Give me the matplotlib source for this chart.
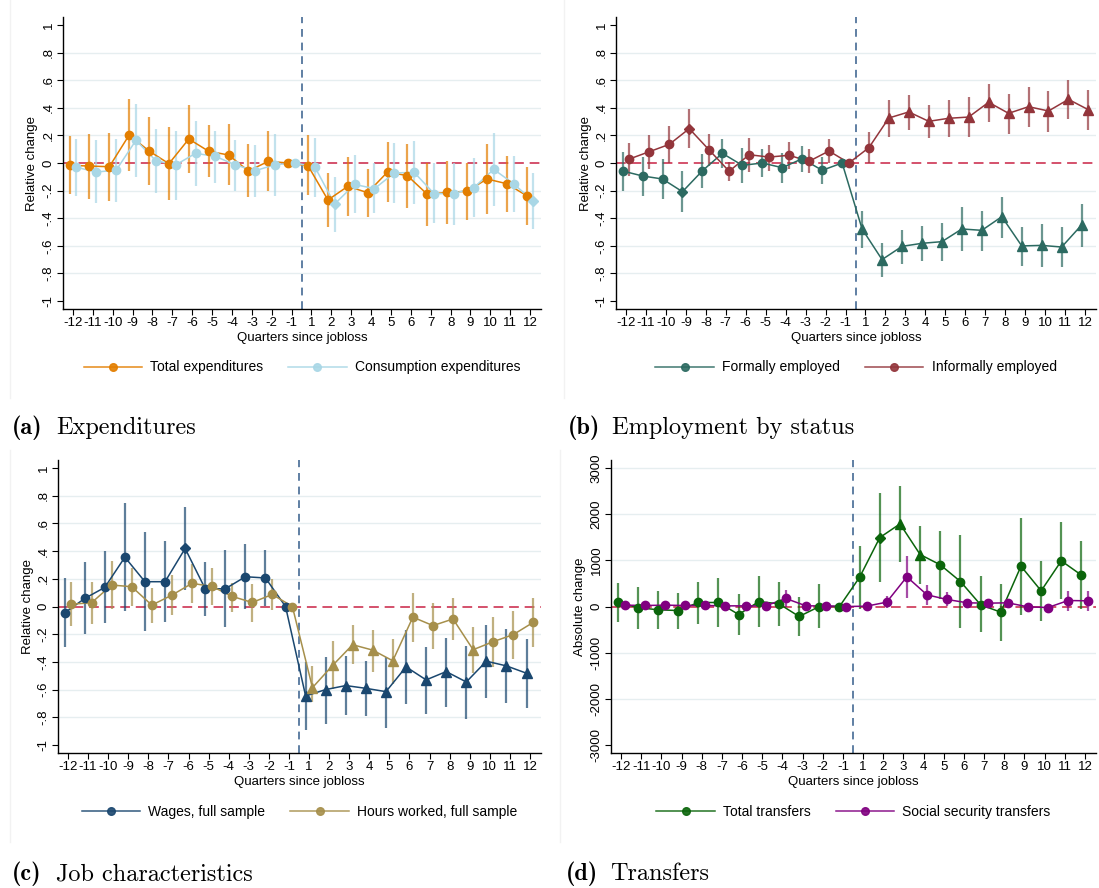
import matplotlib
matplotlib.use("Agg")
import matplotlib.pyplot as plt
from matplotlib.lines import Line2D
import numpy as np

plt.rcParams['font.family'] = ['Liberation Sans', 'DejaVu Sans']

quarters = [-12, -11, -10, -9, -8, -7, -6, -5, -4, -3, -2, -1,
            1, 2, 3, 4, 5, 6, 7, 8, 9, 10, 11, 12]

# (a) Expenditures
total_exp = [-0.017, -0.022, -0.027, 0.203, 0.087, -0.005, 0.174, 0.085, 0.058, -0.058, 0.012, 0.0,
             -0.02, -0.268, -0.169, -0.215, -0.065, -0.092, -0.227, -0.213, -0.205, -0.116, -0.15, -0.237]
total_exp_hi = [0.196, 0.21, 0.215, 0.466, 0.333, 0.26, 0.418, 0.275, 0.283, 0.138, 0.232, None,
                0.2, -0.07, 0.043, -0.043, 0.155, 0.14, 0.0, 0.017, 0.0, 0.138, 0.05, -0.027]
total_exp_lo = [-0.225, -0.263, -0.275, -0.058, -0.16, -0.27, -0.07, -0.104, -0.162, -0.244, -0.2, None,
                -0.232, -0.466, -0.384, -0.389, -0.285, -0.324, -0.454, -0.442, -0.413, -0.367, -0.353, -0.45]
total_exp_sig = [0] * 24

cons_exp = [-0.031, -0.065, -0.053, 0.164, 0.017, -0.014, 0.07, 0.048, -0.014, -0.056, -0.012, 0.0,
            -0.029, -0.297, -0.155, -0.186, -0.072, -0.068, -0.222, -0.222, -0.179, -0.046, -0.15, -0.278]
cons_exp_hi = [0.174, 0.167, 0.174, 0.43, 0.246, 0.234, 0.304, 0.234, 0.167, 0.13, 0.208, None,
               0.184, -0.1, 0.056, 0.0, 0.147, 0.162, 0.0, 0.0, 0.034, 0.22, 0.053, -0.075]
cons_exp_lo = [-0.237, -0.292, -0.283, -0.104, -0.22, -0.268, -0.164, -0.143, -0.203, -0.244, -0.239, None,
               -0.246, -0.498, -0.365, -0.365, -0.292, -0.297, -0.437, -0.449, -0.389, -0.309, -0.355, -0.48]
cons_exp_sig = [0] * 13 + [1] + [0] * 9 + [1]

# (b) Employment by status
formal = [-0.058, -0.094, -0.116, -0.208, -0.056, 0.07, -0.017, 0.0, -0.034, 0.031, -0.053, 0.0,
          -0.478, -0.7, -0.604, -0.582, -0.57, -0.478, -0.488, -0.389, -0.601, -0.597, -0.609, -0.449]
formal_hi = [0.082, 0.046, 0.03, -0.06, 0.065, 0.174, 0.111, 0.101, 0.072, 0.126, 0.046, None,
             -0.348, -0.582, -0.486, -0.457, -0.432, -0.321, -0.348, -0.244, -0.464, -0.442, -0.464, -0.295]
formal_lo = [-0.203, -0.239, -0.263, -0.353, -0.179, -0.034, -0.145, -0.099, -0.143, -0.068, -0.155, None,
             -0.618, -0.829, -0.732, -0.713, -0.713, -0.635, -0.635, -0.543, -0.746, -0.751, -0.756, -0.606]
formal_sig = [0, 0, 0, 1] + [0] * 8 + [2] * 12

informal = [0.029, 0.082, 0.135, 0.249, 0.094, -0.06, 0.06, 0.043, 0.056, 0.012, 0.087, 0.0,
            0.111, 0.326, 0.37, 0.302, 0.324, 0.333, 0.44, 0.36, 0.408, 0.377, 0.461, 0.386]
informal_hi = [0.147, 0.203, 0.27, 0.389, 0.208, 0.005, 0.181, 0.13, 0.152, 0.099, 0.171, None,
               0.225, 0.457, 0.493, 0.42, 0.457, 0.481, 0.572, 0.498, 0.551, 0.522, 0.601, 0.529]
informal_lo = [-0.092, -0.043, 0.0, 0.109, -0.019, -0.133, -0.063, -0.056, -0.041, -0.072, 0.0, None,
               0.0, 0.188, 0.242, 0.179, 0.188, 0.186, 0.295, 0.213, 0.258, 0.225, 0.316, 0.239]
informal_sig = [0, 0, 0, 1] + [0] * 9 + [2] * 11

# (c) Job characteristics
wages = [-0.046, 0.058, 0.138, 0.356, 0.179, 0.179, 0.419, 0.128, 0.128, 0.215, 0.206, 0.0,
         -0.646, -0.6, -0.571, -0.591, -0.615, -0.436, -0.53, -0.47, -0.545, -0.395, -0.429, -0.482]
wages_hi = [0.203, 0.32, 0.402, 0.746, 0.538, 0.475, 0.722, 0.32, 0.407, 0.45, 0.407, None,
            -0.402, -0.363, -0.356, -0.392, -0.368, -0.167, -0.29, -0.23, -0.288, -0.131, -0.16, -0.232]
wages_lo = [-0.295, -0.199, -0.121, -0.031, -0.177, -0.111, 0.116, -0.065, -0.15, -0.019, 0.007, None,
            -0.889, -0.845, -0.787, -0.792, -0.874, -0.705, -0.775, -0.724, -0.811, -0.659, -0.7, -0.734]
wages_sig = [0] * 6 + [1] + [0] * 5 + [2] * 12

hours = [0.017, 0.027, 0.155, 0.143, 0.01, 0.082, 0.167, 0.145, 0.073, 0.029, 0.087, 0.0,
         -0.586, -0.426, -0.276, -0.315, -0.392, -0.077, -0.138, -0.09, -0.312, -0.254, -0.203, -0.114]
hours_hi = [0.174, 0.174, 0.327, 0.277, 0.133, 0.225, 0.31, 0.276, 0.172, 0.165, 0.201, None,
            -0.433, -0.252, -0.131, -0.167, -0.235, 0.099, 0.022, 0.063, -0.148, -0.075, -0.034, 0.061]
hours_lo = [-0.14, -0.123, -0.019, 0.005, -0.116, -0.063, 0.024, 0.012, -0.039, -0.109, -0.027, None,
            -0.688, -0.598, -0.412, -0.47, -0.559, -0.257, -0.305, -0.245, -0.482, -0.438, -0.378, -0.29]
hours_sig = [0] * 12 + [2, 2, 2, 2, 2, 0, 0, 0, 2, 0, 0, 0]

# (d) Transfers
total_tr = [87, -22, -72, -87, 87, 87, -174, 108, 58, -217, 0, 0,
            636, 1497, 1793, 1128, 904, 542, 36, -123, 875, 340, 991, 680]
total_tr_hi = [506, 434, 333, 296, 542, 615, 267, 665, 542, 210, 492, None,
               1316, 2473, 2617, 1743, 1649, 1547, 665, 492, 1916, 991, 1843, 1424]
total_tr_lo = [-347, -484, -484, -484, -376, -448, -622, -441, -419, -643, -463, None,
               -65, 521, 962, 484, 166, -463, -564, -745, -174, -311, 152, -51]
total_tr_sig = [0] * 13 + [1, 2, 2] + [0] * 8

social_tr = [29, 22, 29, 22, 22, 14, 14, 14, 174, 14, 14, 0,
             7, 94, 644, 253, 152, 80, 72, 80, -7, -22, 130, 123]
social_tr_hi = [80, 75, 80, 75, 75, 65, 65, 65, 362, 65, 65, None,
                60, 231, 1099, 470, 304, 150, 140, 150, 55, 40, 340, 340]
social_tr_lo = [-20, -30, -20, -30, -30, -35, -35, -35, -14, -35, -35, None,
                -45, -43, 195, 43, 7, 10, 5, 10, -70, -85, -94, -94]
social_tr_sig = [0] * 24

x = np.arange(len(quarters))
shapes = {0: ('o', 6), 1: ('D', 5.5), 2: ('^', 6.5)}


def draw_series(ax, est, lo, hi, sig, color, shift):
    xs = x + shift
    for xi, l, h in zip(xs, lo, hi):
        if l is not None:
            ax.plot([xi, xi], [l, h], color=color, lw=1.6, alpha=0.7, zorder=3,
                    solid_capstyle='butt')
    ax.plot(xs, est, color=color, lw=1.1, zorder=4)
    for xi, v, s in zip(xs, est, sig):
        m, ms = shapes[s]
        ax.plot(xi, v, marker=m, ms=ms, color=color, mec=color, ls='none', zorder=5)


def panel(ax, s1, s2, ylab, lim, ticks, ticklabels, grid, legend_names):
    for yy in grid:
        ax.axhline(yy, color='#e6eef0', lw=1.0, zorder=0)
    ax.axhline(0, color='#d4516b', lw=1.4, ls=(0, (5, 3)), zorder=1)
    ax.axvline(11.5, color='#5f7fa3', lw=1.4, ls=(0, (4, 3)), zorder=1)
    draw_series(ax, *s1, shift=-0.17)
    draw_series(ax, *s2, shift=0.17)
    ax.set_xlim(-0.5, 23.55)
    ax.set_ylim(-lim, lim)
    ax.set_xticks(x)
    ax.set_xticklabels([str(q) for q in quarters])
    ax.set_yticks(ticks)
    ax.set_yticklabels(ticklabels, rotation=90, va='center')
    ax.tick_params(labelsize=9.5, length=4, width=0.8, pad=2)
    ax.set_xlabel('Quarters since jobloss', fontsize=9.5, labelpad=2)
    ax.set_ylabel(ylab, fontsize=9.5, labelpad=3)
    for side in ['top', 'right']:
        ax.spines[side].set_visible(False)
    for side in ['left', 'bottom']:
        ax.spines[side].set_linewidth(1.0)
    handles = [Line2D([0], [0], color=s1[4], lw=1.1, marker='o', ms=5.5, alpha=0.9),
               Line2D([0], [0], color=s2[4], lw=1.1, marker='o', ms=5.5, alpha=0.9)]
    ax.legend(handles, legend_names, loc='center', bbox_to_anchor=(0.5, -0.2),
              ncol=2, frameon=False, fontsize=10, handlelength=4.2, columnspacing=1.8,
              handletextpad=0.6)


fig = plt.figure(figsize=(10.99, 8.88), dpi=100)
W, H = 1099, 888


def add_ax(l, r, t, b):
    return fig.add_axes([l / W, 1 - b / H, (r - l) / W, (b - t) / H])


rel_ticks = [1, 0.8, 0.6, 0.4, 0.2, 0, -0.2, -0.4, -0.6, -0.8, -1]
rel_labels = ['1', '.8', '.6', '.4', '.2', '0', '-.2', '-.4', '-.6', '-.8', '-1']
rel_grid = [0.8, 0.6, 0.4, 0.2, -0.2, -0.4, -0.6, -0.8]
abs_ticks = [3000, 2000, 1000, 0, -1000, -2000, -3000]
abs_labels = ['3000', '2000', '1000', '0', '-1000', '-2000', '-3000']
abs_grid = [3000, 2000, 1000, -1000, -2000]

ax_a = add_ax(63, 541, 17, 309)
panel(ax_a,
      (total_exp, total_exp_lo, total_exp_hi, total_exp_sig, '#e37e00'),
      (cons_exp, cons_exp_lo, cons_exp_hi, cons_exp_sig, '#a9d7e6'),
      'Relative change', 1.058, rel_ticks, rel_labels, rel_grid,
      ['Total expenditures', 'Consumption expenditures'])

ax_b = add_ax(616, 1096, 17, 309)
panel(ax_b,
      (formal, formal_lo, formal_hi, formal_sig, '#2c6a61'),
      (informal, informal_lo, informal_hi, informal_sig, '#93353b'),
      'Relative change', 1.058, rel_ticks, rel_labels, rel_grid,
      ['Formally employed', 'Informally employed'])

ax_c = add_ax(58, 541, 460, 753)
panel(ax_c,
      (wages, wages_lo, wages_hi, wages_sig, '#1a476f'),
      (hours, hours_lo, hours_hi, hours_sig, '#a68f4b'),
      'Relative change', 1.058, rel_ticks, rel_labels, rel_grid,
      ['Wages, full sample', 'Hours worked, full sample'])

ax_d = add_ax(611, 1096, 460, 753)
panel(ax_d,
      (total_tr, total_tr_lo, total_tr_hi, total_tr_sig, '#0b650b'),
      (social_tr, social_tr_lo, social_tr_hi, social_tr_sig, '#800080'),
      'Absolute change', 3180, abs_ticks, abs_labels, abs_grid,
      ['Total transfers', 'Social security transfers'])

# faint frame lines of the sub-images
for xl, y0, y1 in [(10, 0, 398), (564, 0, 398), (10, 450, 842), (560, 450, 842)]:
    fig.add_artist(Line2D([xl / W, xl / W], [1 - y0 / H, 1 - y1 / H], color='#f2f2f2', lw=1))

captions = [(12, 434, 'a', 'Expenditures'), (568, 434, 'b', 'Employment by status'),
            (12, 880, 'c', 'Job characteristics'), (566, 880, 'd', 'Transfers')]
for cx, cy, letter, name in captions:
    fig.text(cx / W, 1 - cy / H, '(%s)' % letter, family='cmb10', fontsize=17.5,
             va='baseline', ha='left')
    fig.text((cx + 44) / W, 1 - cy / H, name, family='cmr10', fontsize=17.5,
             va='baseline', ha='left')

fig.savefig('out.png', dpi=100)
